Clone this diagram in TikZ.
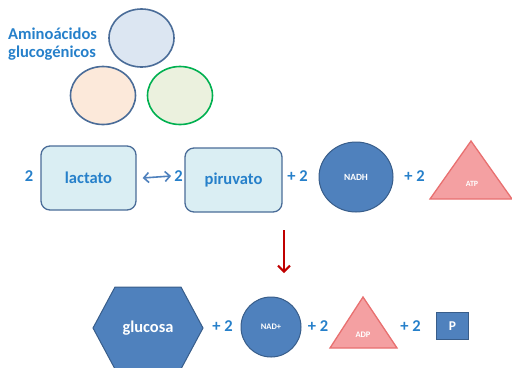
\documentclass[tikz,border=0pt]{standalone}
\usepackage{fontspec}
\setmainfont{Carlito}
\usepackage{tikz}
\usetikzlibrary{shapes.geometric,arrows.meta}

\definecolor{txtblue}{RGB}{38,128,202}
\definecolor{edgeblue}{RGB}{74,108,152}
\definecolor{boxfill}{RGB}{218,238,243}
\definecolor{darkfill}{RGB}{79,129,189}
\definecolor{darkedge}{RGB}{56,93,138}
\definecolor{pinkfill}{RGB}{244,160,162}
\definecolor{pinkedge}{RGB}{232,112,112}
\definecolor{arrred}{RGB}{192,0,0}

\begin{document}
\begin{tikzpicture}[x=1bp,y=-1bp,
  lbl/.style={text=txtblue,font=\fontsize{16.6}{17.5}\selectfont\bfseries,inner sep=0pt},
  box/.style={draw=edgeblue,fill=boxfill,line width=1.3bp,rounded corners=9bp,
    minimum width=95bp,minimum height=64bp,lbl},
  oval/.style={ellipse,draw=edgeblue,line width=1.6bp,minimum width=65bp,minimum height=58bp},
  dark/.style={draw=darkedge,fill=darkfill,line width=1bp},
  pink/.style={draw=pinkedge,fill=pinkfill,line width=1.3bp},
  wtxt/.style={text=white,font=\fontsize{#1}{#1}\selectfont\bfseries,inner sep=0pt}]
\useasboundingbox (0,0) rectangle (512,367);

\node (amino) [lbl,align=left,anchor=west] at (8,44) {Amino\'acidos\\[1bp]glucog\'enicos};
\node (ovtop) [oval,fill={rgb,255:red,220;green,230;blue,242}] at (141.5,38) {};
\node (ovleft) [oval,fill={rgb,255:red,252;green,233;blue,218}] at (103,95.5) {};
\node (ovright) [oval,draw={rgb,255:red,0;green,176;blue,80},fill={rgb,255:red,235;green,241;blue,222}] at (180,95.5) {};

\node (twoa) [lbl] at (29,176) {2};
\node (lactato) [box] at (88.5,178) {lactato};
\node (twob) [lbl] at (178.5,176) {2};
\node (piruvato) [box,minimum width=97bp] at (233.5,180) {piruvato};
\node (plusa) [lbl] at (297.5,176) {+ 2};
\node (nadh) [ellipse,dark,minimum width=74bp,minimum height=70bp,wtxt=9.5] at (356,177) {NADH};
\node (plusb) [lbl] at (414.5,176) {+ 2};
\draw[pink] (430,199) -- (471,141) -- (512,199) -- cycle;
\node (atp) [wtxt=8] at (472,184) {ATP};

\draw[{Straight Barb[length=5bp,width=10bp]}-{Straight Barb[length=5bp,width=10bp]},draw=darkfill,line width=1.6bp]
  ([xshift=6bp]lactato.east) -- ([xshift=-3bp]twob.west);

\coordinate (arrtop) at (284,230);
\coordinate (arrbot) at (284,273);
\draw[-{Straight Barb[length=6bp,width=12bp]},draw=arrred,line width=2bp] (arrtop) -- (arrbot);

\draw[dark] (93,328) -- (115,287) -- (181,287) -- (203,328) -- (181,369) -- (115,369) -- cycle;
\node (glucosa) [wtxt=16.5] at (148,328) {glucosa};
\node (plusc) [lbl] at (222.5,326) {+ 2};
\node (nadp) [circle,dark,minimum size=60bp,wtxt=8.5] at (271,327) {NAD+};
\node (plusd) [lbl] at (318,326) {+ 2};
\draw[pink] (330,348) -- (363,297) -- (397,348) -- cycle;
\node (adp) [wtxt=8.5] at (363,335) {ADP};
\node (pluse) [lbl] at (410.5,326) {+ 2};
\node (pbox) [dark,minimum width=32bp,minimum height=27bp,wtxt=13.5] at (452.5,326) {P};
\end{tikzpicture}
\end{document}
